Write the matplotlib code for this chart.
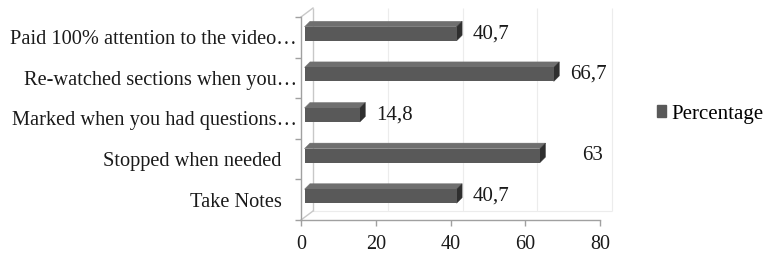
import matplotlib
matplotlib.use("Agg")
import matplotlib.pyplot as plt
import matplotlib.transforms as mtransforms
from matplotlib.patches import Polygon, Patch

# data (bottom to top, as drawn)
categories = ["Take Notes   ", "Stopped when needed   ", "Marked when you had questions…",
              "Re-watched sections when you…", "Paid 100% attention to the video…"]
values = [40.7, 63, 14.8, 66.7, 40.7]
series_name = "Percentage"
xticks = [0, 20, 40, 60, 80]

FRONT = "#595959"
TOP = "#6f6f6f"
SIDE = "#2f2f2f"
AXC = "#a0a0a0"
WALL = "#c8c8c8"
TXT = "#1a1a1a"


def main():
    plt.rcParams["font.family"] = ["Liberation Serif", "DejaVu Serif"]
    fig = plt.figure(figsize=(7.64, 2.56), dpi=100)
    W, H = 764, 256
    ax = fig.add_axes([301 / W, 36 / H, 299 / W, 203 / H])
    ax.set_xlim(0, 80)
    ax.set_ylim(-0.5, 4.5)

    ypos = list(range(len(categories)))
    bar_h = 0.345

    # back wall + floor (3D frame)
    back = mtransforms.offset_copy(ax.transData, fig, x=12, y=9, units="dots")
    ax.vlines(xticks[1:], -0.5, 4.5, colors="#ececec", lw=0.8, transform=back, clip_on=False, zorder=0)
    ax.vlines([0], -0.5, 4.5, colors=WALL, lw=1.0, transform=back, clip_on=False, zorder=1)
    ax.hlines([-0.5], 0, 80, colors="#ececec", lw=0.8, transform=back, clip_on=False, zorder=0)
    for yy in (-0.5, 4.5):
        p0 = ax.transData.transform((0, yy))
        ax.plot([p0[0], p0[0] + 12], [p0[1], p0[1] + 9], color=WALL, lw=1.0,
                transform=None, clip_on=False, zorder=1)

    # bars: front face through barh, extrusion from the same transform
    front = mtransforms.offset_copy(ax.transData, fig, x=3.5, y=3.5, units="dots")
    ax.barh(ypos, values, height=bar_h, color=FRONT, transform=front, zorder=3)
    d = 5.5
    for y, v in zip(ypos, values):
        x0, yt = front.transform((0, y + bar_h / 2))
        x1, yb = front.transform((v, y - bar_h / 2))
        top = Polygon([(x0, yt), (x1, yt), (x1 + d, yt + d), (x0 + d, yt + d)],
                      closed=True, facecolor=TOP, edgecolor=TOP, lw=0.3, transform=None, zorder=2)
        side = Polygon([(x1, yt), (x1, yb), (x1 + d, yb + d), (x1 + d, yt + d)],
                       closed=True, facecolor=SIDE, edgecolor=SIDE, lw=0.3, transform=None, zorder=2)
        ax.add_patch(top)
        ax.add_patch(side)
        # data label
        off = 42 if v == 63 else 16
        ax.annotate(f"{v:g}".replace(".", ","), xy=(v, y), xycoords=front,
                    xytext=(off * 0.72, 0), textcoords="offset points",
                    ha="left", va="center", fontsize=15, color=TXT)

    # axes styling
    for s in ("top", "right"):
        ax.spines[s].set_visible(False)
    for s in ("left", "bottom"):
        ax.spines[s].set_color(AXC)
        ax.spines[s].set_linewidth(1.0)
    ax.set_xticks(xticks)
    ax.set_xticklabels([str(t) for t in xticks])
    ax.tick_params(axis="x", length=4, width=1.0, color=AXC, pad=7, labelsize=14.5, labelcolor=TXT)
    ax.set_yticks(ypos)
    ax.set_yticklabels(categories)
    ax.set_yticks([i - 0.5 for i in range(len(categories) + 1)], minor=True)
    ax.tick_params(axis="y", which="major", length=0, pad=3, labelsize=14.7, labelcolor=TXT)
    ax.tick_params(axis="y", which="minor", length=4, width=1.0, color=AXC)

    fig.legend(handles=[Patch(facecolor=FRONT, edgecolor=FRONT, label=series_name)],
               loc="center left", bbox_to_anchor=(657 / W, 1 - 114 / H), frameon=False,
               handlelength=0.45, handleheight=0.45, handletextpad=0.25, borderpad=0,
               borderaxespad=0, fontsize=15)

    fig.savefig("out.png", dpi=100)


if __name__ == "__main__":
    main()
